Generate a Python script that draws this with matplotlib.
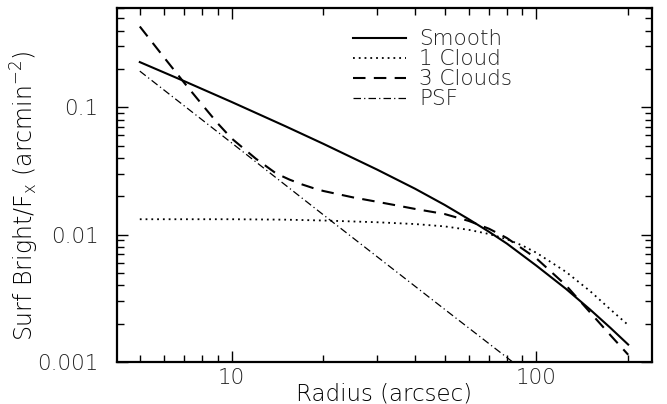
import matplotlib
matplotlib.use('Agg')
import matplotlib.pyplot as plt
from matplotlib.ticker import FixedLocator, LogLocator, NullFormatter, FixedFormatter

# radial profiles
r_smooth = [5, 7, 10, 15, 20, 30, 40, 50, 60, 70, 80, 100, 125, 150, 175, 200]
smooth = [0.226, 0.16, 0.11, 0.071, 0.0516, 0.0324, 0.0229, 0.0171, 0.0132,
          0.0105, 0.0085, 0.0057, 0.00375, 0.00258, 0.00185, 0.00137]

r_one = [5, 10, 15, 20, 30, 40, 50, 60, 70, 80, 90, 100, 125, 150, 175, 200]
one_cloud = [0.0132, 0.0132, 0.0131, 0.0129, 0.0125, 0.0121, 0.0116, 0.0109,
             0.0101, 0.0092, 0.0082, 0.0072, 0.0051, 0.0036, 0.00258, 0.00195]

r_three = [5, 6, 7, 8, 9, 10, 12, 14, 15.5, 17, 18.5, 20, 25, 30, 35, 40, 50,
           60, 70, 80, 100, 125, 150, 175, 200]
three_clouds = [0.43, 0.2465, 0.155, 0.105, 0.0748, 0.0569, 0.0395, 0.0302,
                0.027, 0.0248, 0.0232, 0.022, 0.0196, 0.0181, 0.0169, 0.0159,
                0.0145, 0.0128, 0.0111, 0.0094, 0.0065, 0.004, 0.00245,
                0.00162, 0.00114]

r_psf = [5, 10, 20, 50, 100]
psf = [0.192, 0.0525, 0.0143, 0.00259, 0.000717]

plt.rcParams['font.family'] = 'DejaVu Sans'
plt.rcParams['font.size'] = 15.5
plt.rcParams['font.weight'] = 'light'
plt.rcParams['text.color'] = '#222222'
plt.rcParams['xtick.labelcolor'] = '#222222'
plt.rcParams['ytick.labelcolor'] = '#222222'

fig = plt.figure(figsize=(6.67, 4.04), dpi=100)
ax = fig.add_axes([0.175, 0.104, 0.803, 0.876])

ax.plot(r_smooth, smooth, color='black', lw=1.5, label='Smooth')
ax.plot(r_one, one_cloud, color='black', lw=1.3, linestyle=(0, (1, 2.2)), label='1 Cloud')
ax.plot(r_three, three_clouds, color='black', lw=1.5, linestyle=(0, (6, 4)), label='3 Clouds')
ax.plot(r_psf, psf, color='black', lw=0.9, linestyle=(0, (6, 2.5, 1, 2.5)), label='PSF')

ax.set_xscale('log')
ax.set_yscale('log')
ax.set_xlim(4.2, 240)
ax.set_ylim(0.001, 0.6)

ax.xaxis.set_major_locator(FixedLocator([10, 100]))
ax.xaxis.set_major_formatter(FixedFormatter(['10', '100']))
ax.xaxis.set_minor_locator(LogLocator(base=10, subs=range(2, 10)))
ax.xaxis.set_minor_formatter(NullFormatter())
ax.yaxis.set_major_locator(FixedLocator([0.001, 0.01, 0.1]))
ax.yaxis.set_major_formatter(FixedFormatter(['0.001', '0.01', '0.1']))
ax.yaxis.set_minor_locator(LogLocator(base=10, subs=range(2, 10)))
ax.yaxis.set_minor_formatter(NullFormatter())

ax.tick_params(which='both', direction='in', top=True, right=True, width=1.0)
ax.tick_params(which='major', length=8)
ax.tick_params(which='minor', length=5)
ax.tick_params(axis='x', which='major', pad=4)
ax.tick_params(axis='y', which='major', pad=13)
for s in ax.spines.values():
    s.set_linewidth(1.6)

ax.set_xlabel('Radius (arcsec)', fontsize=16.5, fontweight='light')
ax.set_ylabel('Surf Bright/F$_\\mathregular{x}$ (arcmin$^{\\mathregular{-2}}$)',
              fontsize=17, fontweight='light')
ax.xaxis.set_label_coords(0.499, -0.058)
ax.yaxis.set_label_coords(-0.172, 0.47)
ax.yaxis.label.set_va('center')

ax.legend(loc='upper left', bbox_to_anchor=(0.441, 0.94), frameon=False,
          handlelength=2.45, handletextpad=0.62, labelspacing=0.0,
          borderaxespad=0, borderpad=0)

fig.savefig('out.png', dpi=100)
